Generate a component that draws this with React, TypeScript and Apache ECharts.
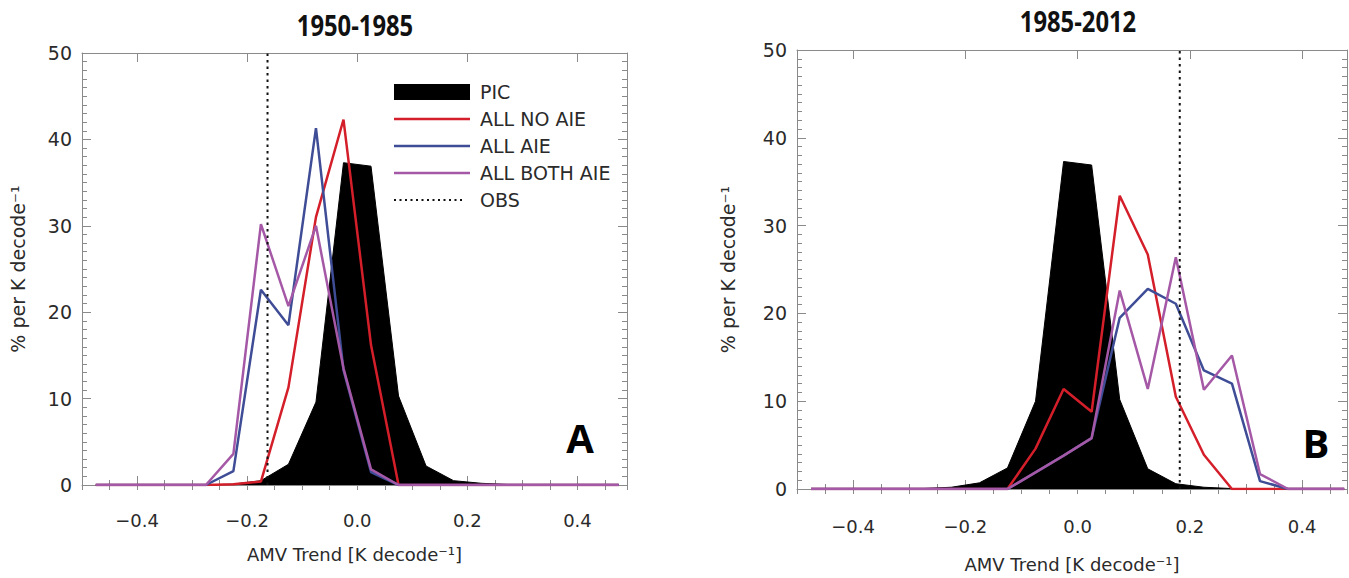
import React, { useEffect, useRef } from "react";
import * as echarts from "echarts";

// histogram bin centres (K decade^-1)
const binCenters = [
  -0.475, -0.425, -0.375, -0.325, -0.275, -0.225, -0.175, -0.125, -0.075, -0.025,
  0.025, 0.075, 0.125, 0.175, 0.225, 0.275, 0.325, 0.375, 0.425, 0.475,
];

// Panel A: 1950-1985
const leftPIC = [0, 0, 0, 0, 0, 0.1, 0.5, 2.4, 9.6, 37.3, 36.9, 10.3, 2.2, 0.5, 0.2, 0.05, 0, 0, 0, 0];
const leftNoAIE = [0, 0, 0, 0, 0, 0.1, 0.4, 11.3, 31, 42.3, 16.2, 0, 0, 0, 0, 0, 0, 0, 0, 0];
const leftAIE = [0, 0, 0, 0, 0, 1.6, 22.6, 18.5, 41.3, 13.3, 1.5, 0, 0, 0, 0, 0, 0, 0, 0, 0];
const leftBothAIE = [0, 0, 0, 0, 0, 3.6, 30.2, 20.7, 30, 13.5, 1.8, 0, 0, 0, 0, 0, 0, 0, 0, 0];
const leftObs = -0.163;

// Panel B: 1985-2012
const rightPIC = [0, 0, 0, 0, 0.05, 0.2, 0.7, 2.4, 10, 37.3, 36.9, 10.2, 2.3, 0.6, 0.2, 0.05, 0, 0, 0, 0];
const rightNoAIE = [0, 0, 0, 0, 0, 0, 0, 0, 4.6, 11.4, 8.8, 33.4, 26.7, 10.5, 3.9, 0, 0, 0, 0, 0];
const rightAIE = [0, 0, 0, 0, 0, 0, 0, 0, 1.9, 3.8, 5.8, 19.5, 22.8, 21.1, 13.5, 12, 0.9, 0, 0, 0];
const rightBothAIE = [0, 0, 0, 0, 0, 0, 0, 0, 1.9, 3.8, 5.8, 22.6, 11.4, 26.4, 11.3, 15.2, 1.7, 0, 0, 0];
const rightObs = 0.182;

const xTickValues = [-0.4, -0.2, 0, 0.2, 0.4];
const panelTitles = ["1950-1985", "1985-2012"];
const panelLetters = ["A", "B"];
const legendNames = ["PIC", "ALL NO AIE", "ALL AIE", "ALL BOTH AIE", "OBS"];
const xTitle = "AMV Trend [K decode\u207B\u00B9]";
const yTitle = "% per K decode\u207B\u00B9";

const RED = "#d41f2a";
const BLUE = "#3f4c96";
const MAGENTA = "#a458a6";
const FRAME = "#8a8a8a";
const TXT = "#2a2a2a";
const FONT = "DejaVu Sans";

const pairs = (vals: number[]) => vals.map((v, i) => [binCenters[i], v]);

const fmt = (v: number) => {
  const s = Math.abs(v).toFixed(1);
  return v < -1e-9 ? "\u2212" + s : s;
};

function buildAxes(g: number, xMax: number, xNameGap: number, labelMargin: number, yNameGap: number) {
  const common = { type: "value", gridIndex: g, min: -0.5, max: xMax, splitLine: { show: false } };
  const lineStyle = { color: FRAME, width: 1 };
  const xAxes = [
    {
      ...common,
      position: "bottom",
      axisLine: { show: true, onZero: false, lineStyle },
      axisTick: { show: true, inside: true, length: 9, customValues: xTickValues, lineStyle },
      axisLabel: {
        show: true,
        customValues: xTickValues,
        formatter: (v: number) => fmt(v),
        margin: labelMargin,
        fontSize: 18,
        fontFamily: FONT,
        color: TXT,
      },
      name: xTitle,
      nameLocation: "middle",
      nameGap: xNameGap,
      nameTextStyle: { fontSize: 18, fontFamily: FONT, color: TXT },
    },
    {
      ...common,
      position: "bottom",
      interval: 0.05,
      axisLine: { show: false },
      axisTick: { show: true, inside: true, length: 5, lineStyle },
      axisLabel: { show: false },
    },
    {
      ...common,
      position: "top",
      axisLine: { show: true, onZero: false, lineStyle },
      axisTick: { show: true, inside: true, length: 9, customValues: xTickValues, lineStyle },
      axisLabel: { show: false },
    },
    {
      ...common,
      position: "top",
      interval: 0.05,
      axisLine: { show: false },
      axisTick: { show: true, inside: true, length: 5, lineStyle },
      axisLabel: { show: false },
    },
  ];
  const ycommon = {
    type: "value",
    gridIndex: g,
    min: 0,
    max: 50,
    interval: 10,
    splitLine: { show: false },
    minorSplitLine: { show: false },
    axisLine: { show: true, onZero: false, lineStyle },
    axisTick: { show: true, inside: true, length: 9, lineStyle },
    minorTick: { show: true, splitNumber: 10, length: 5, lineStyle },
  };
  const yAxes = [
    {
      ...ycommon,
      position: "left",
      axisLabel: { show: true, fontSize: 19, fontFamily: FONT, color: TXT, margin: 10 },
      name: yTitle,
      nameLocation: "middle",
      nameRotate: 90,
      nameGap: yNameGap,
      nameTextStyle: { fontSize: 19, fontFamily: FONT, color: TXT },
    },
    { ...ycommon, position: "right", axisLabel: { show: false } },
  ];
  return { xAxes, yAxes };
}

function buildSeries(g: number, pic: number[], noAie: number[], aie: number[], both: number[], obs: number) {
  const xi = g * 4;
  const yi = g * 2;
  const base = { type: "line", xAxisIndex: xi, yAxisIndex: yi, symbol: "none", showSymbol: false, silent: true };
  return [
    {
      ...base,
      name: legendNames[0],
      data: pairs(pic),
      lineStyle: { color: "#000", width: 1 },
      itemStyle: { color: "#000" },
      areaStyle: { color: "#000", opacity: 1 },
    },
    { ...base, name: legendNames[1], data: pairs(noAie), lineStyle: { color: RED, width: 2.5 }, itemStyle: { color: RED } },
    { ...base, name: legendNames[2], data: pairs(aie), lineStyle: { color: BLUE, width: 2.5 }, itemStyle: { color: BLUE } },
    { ...base, name: legendNames[3], data: pairs(both), lineStyle: { color: MAGENTA, width: 2.5 }, itemStyle: { color: MAGENTA } },
    {
      ...base,
      name: legendNames[4],
      data: [
        [obs, 0],
        [obs, 50],
      ],
      lineStyle: { color: "#111", width: 2, type: [2.5, 4] },
      itemStyle: { color: "#111" },
    },
  ];
}

function legendGraphic() {
  const x1 = 394;
  const x2 = 470;
  const tx = 480;
  const rows = [92, 119, 146, 173, 200];
  const textStyle = (t: string, y: number) => ({
    type: "text",
    x: tx,
    y,
    style: { text: t, font: `19px "${FONT}"`, fill: TXT, textVerticalAlign: "middle", textAlign: "left" },
  });
  return [
    { type: "rect", shape: { x: x1, y: rows[0] - 8, width: x2 - x1, height: 16 }, style: { fill: "#000" } },
    textStyle(legendNames[0], rows[0]),
    { type: "line", shape: { x1, y1: rows[1], x2, y2: rows[1] }, style: { stroke: RED, lineWidth: 2.5 } },
    textStyle(legendNames[1], rows[1]),
    { type: "line", shape: { x1, y1: rows[2], x2, y2: rows[2] }, style: { stroke: BLUE, lineWidth: 2.5 } },
    textStyle(legendNames[2], rows[2]),
    { type: "line", shape: { x1, y1: rows[3], x2, y2: rows[3] }, style: { stroke: MAGENTA, lineWidth: 2.5 } },
    textStyle(legendNames[3], rows[3]),
    {
      type: "line",
      shape: { x1, y1: rows[4], x2: x2 - 8, y2: rows[4] },
      style: { stroke: "#111", lineWidth: 2, lineDash: [2, 3.5] },
    },
    textStyle(legendNames[4], rows[4]),
  ];
}

export default function App() {
  const ref = useRef<HTMLDivElement>(null);
  useEffect(() => {
    if (!ref.current) return;
    const chart = echarts.init(ref.current, undefined, { renderer: "svg" });
    const a = buildAxes(0, 0.49, 60, 26, 55);
    const b = buildAxes(1, 0.48, 66, 28, 60);
    const option: any = {
      animation: false,
      backgroundColor: "#ffffff",
      grid: [
        { left: 82, top: 53, width: 545, height: 432, containLabel: false },
        { left: 797, top: 50, width: 550, height: 441, containLabel: false },
      ],
      xAxis: [...a.xAxes, ...b.xAxes],
      yAxis: [...a.yAxes, ...b.yAxes],
      series: [
        ...buildSeries(0, leftPIC, leftNoAIE, leftAIE, leftBothAIE, leftObs),
        ...buildSeries(1, rightPIC, rightNoAIE, rightAIE, rightBothAIE, rightObs),
      ],
      graphic: [
        {
          type: "text",
          x: 355,
          y: 25,
          scaleX: 0.82,
          style: {
            text: panelTitles[0],
            font: 'bold 29px "Open Sans"',
            fill: "#111",
            textAlign: "center",
            textVerticalAlign: "middle",
          },
        },
        {
          type: "text",
          x: 1078,
          y: 21,
          scaleX: 0.82,
          style: {
            text: panelTitles[1],
            font: 'bold 29px "Open Sans"',
            fill: "#111",
            textAlign: "center",
            textVerticalAlign: "middle",
          },
        },
        {
          type: "text",
          x: 580,
          y: 437,
          style: { text: panelLetters[0], font: 'bold 40px "Open Sans"', fill: "#000", textAlign: "center", textVerticalAlign: "middle" },
        },
        {
          type: "text",
          x: 1316,
          y: 442,
          style: { text: panelLetters[1], font: 'bold 40px "Open Sans"', fill: "#000", textAlign: "center", textVerticalAlign: "middle" },
        },
        ...legendGraphic(),
      ],
    };
    chart.setOption(option);
    return () => chart.dispose();
  }, []);
  return (
    <div
      ref={ref}
      style={{ position: "absolute", left: 0, top: 0, width: 1349, height: 578, background: "#fff" }}
    />
  );
}
